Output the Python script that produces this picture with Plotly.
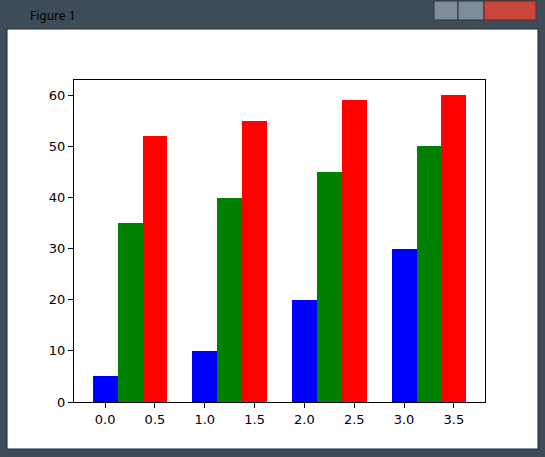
import numpy as np
import plotly.graph_objects as go

groups = [0, 1, 2, 3]
bar_width = 0.25
blue_values = [5, 10, 20, 30]
green_values = [35, 40, 45, 50]
red_values = [52, 55, 59, 60]
series_colors = ["blue", "green", "red"]

W, H = 545, 457
L, R, T, B = 74, 60, 80, 55
pw, ph = W - L - R, H - T - B


def px_x(p):
    return (p - L) / pw


def px_y(p):
    return 1 - (p - T) / ph


fig = go.Figure()
for i, (vals, color) in enumerate(zip([blue_values, green_values, red_values], series_colors)):
    fig.add_trace(
        go.Bar(
            x=np.array(groups) + i * bar_width,
            y=vals,
            width=bar_width,
            marker_color=color,
            marker_line_width=0,
            showlegend=False,
            hoverinfo="skip",
        )
    )

# window frame + white figure canvas
fig.add_shape(type="rect", xref="paper", yref="paper",
              x0=px_x(7), x1=px_x(538), y0=px_y(449), y1=px_y(29),
              fillcolor="white", line=dict(color="#1e2630", width=1), layer="below")
fig.add_shape(type="rect", xref="paper", yref="paper",
              x0=px_x(434), x1=px_x(458), y0=px_y(20), y1=px_y(1),
              fillcolor="#7f8d9b", line=dict(color="#2a3440", width=1), layer="below")
fig.add_shape(type="rect", xref="paper", yref="paper",
              x0=px_x(458), x1=px_x(484), y0=px_y(20), y1=px_y(1),
              fillcolor="#7f8d9b", line=dict(color="#2a3440", width=1), layer="below")
fig.add_shape(type="rect", xref="paper", yref="paper",
              x0=px_x(484), x1=px_x(536), y0=px_y(20), y1=px_y(1),
              fillcolor="#c8463a", line=dict(color="#5a2a2a", width=1), layer="below")
fig.add_annotation(text="Figure 1", xref="paper", yref="paper",
                   x=px_x(28), y=px_y(15), xanchor="left", yanchor="middle",
                   showarrow=False, font=dict(family="Noto Sans", size=12, color="black"))

axis_common = dict(
    showline=True, linecolor="black", linewidth=1, mirror=True,
    ticks="outside", ticklen=5, tickcolor="black", tickwidth=1,
    showgrid=False, zeroline=False,
    tickfont=dict(family="DejaVu Sans", size=13, color="black"),
)
fig.update_xaxes(range=[-0.3125, 3.8125], tickvals=[0, 0.5, 1, 1.5, 2, 2.5, 3, 3.5],
                 tickformat=".1f", **axis_common)
fig.update_yaxes(range=[0, 63], dtick=10, **axis_common)
fig.update_layout(
    width=W, height=H,
    margin=dict(l=L, r=R, t=T, b=B),
    paper_bgcolor="#3e4b59",
    plot_bgcolor="white",
    barmode="overlay",
    bargap=0,
)
fig.write_html("out.html", config={"displayModeBar": False},
               post_script="document.body.style.margin='0';")
